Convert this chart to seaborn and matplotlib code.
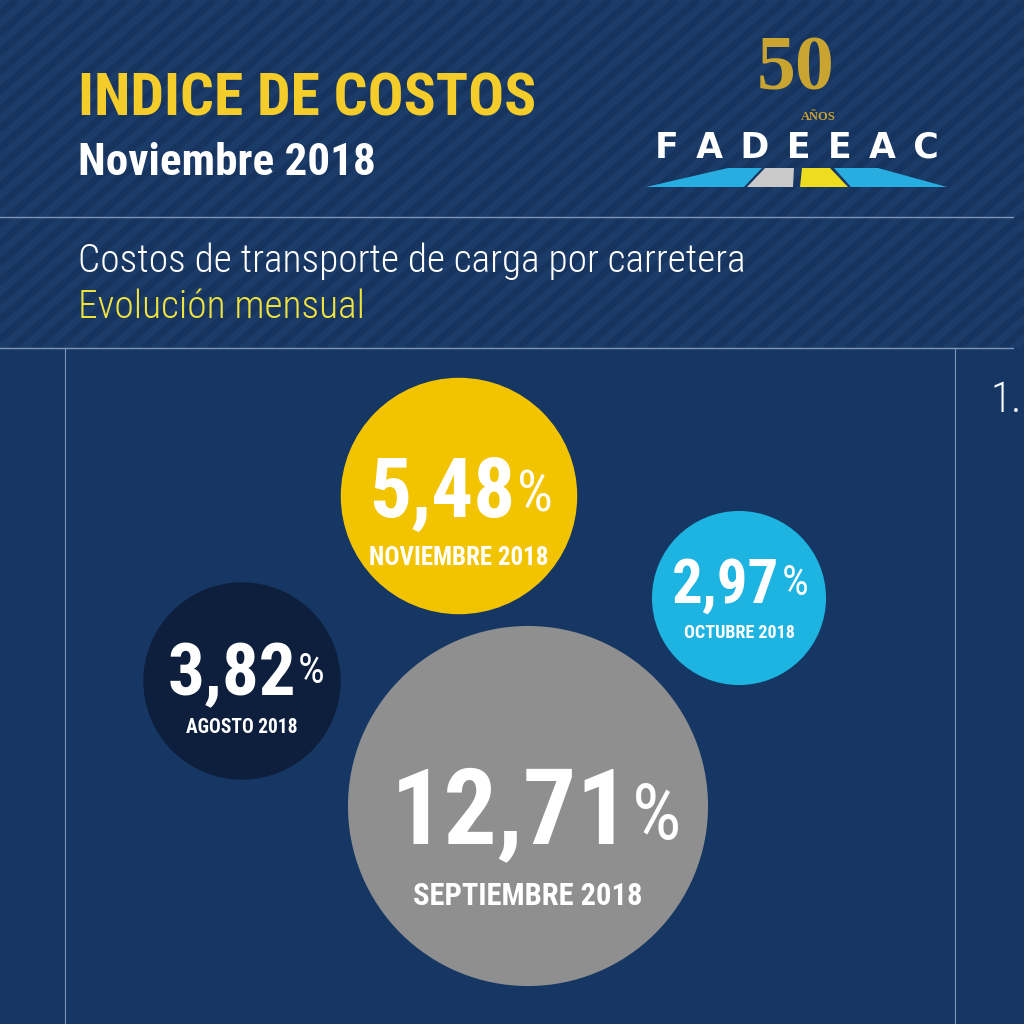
import numpy as np
import pandas as pd
import matplotlib
matplotlib.use("Agg")
import matplotlib.pyplot as plt
import seaborn as sns
from matplotlib import font_manager as fm
from matplotlib.patches import Rectangle, Polygon
from matplotlib.collections import LineCollection

# ---------------- data ----------------
meses = ["AGOSTO 2018", "SEPTIEMBRE 2018", "OCTUBRE 2018", "NOVIEMBRE 2018"]
valores = [3.82, 12.71, 2.97, 5.48]
etiquetas_valor = ["3,82", "12,71", "2,97", "5,48"]

titulo = "INDICE DE COSTOS"
subtitulo = "Noviembre 2018"
texto_1 = "Costos de transporte de carga por carretera"
texto_2 = "Evolución mensual"

# ---------------- layout / style ----------------
bubble_x = [242, 528, 739, 459]
bubble_y = [681, 806, 598, 496]
colores = ["#0e1f3d", "#8f8f8f", "#1db4e2", "#f2c400"]
# per bubble: value baseline, value cap px, value width px, % drop px, % cap px,
# label baseline, label cap px, label width px, group center offset
val_base = [695, 843, 603, 517]
val_cap = [60, 101, 51, 75]
val_w = [117, 218, 98, 133]
pct_drop = [10, 16, 6, 13]
pct_cap = [32, 59, 32, 43]
lab_base = [733, 905, 638, 565]
lab_cap = [15, 22, 13, 18]
lab_w = [107, 235, 110, 179]
grp_off = [4, 8, 1, 2]

BG = "#163763"
HEAD = "#1b3b69"
STRIPE = "#17345f"
LINE = "#7f95b8"

available = {f.name for f in fm.fontManager.ttflist}
COND = None
for c in ["Liberation Sans Narrow", "Roboto Condensed", "Open Sans Condensed",
          "DejaVu Sans Condensed", "Liberation Sans"]:
    if c in available:
        COND = c
        break
if COND is None:
    COND = "DejaVu Sans"
SERIF = "Liberation Serif" if "Liberation Serif" in available else "DejaVu Serif"

sns.set_theme(style="white")
plt.rcParams["font.family"] = [COND, "DejaVu Sans"]

fig = plt.figure(figsize=(10.24, 10.24), dpi=100)
fig.patch.set_facecolor(BG)
ax = fig.add_axes([0, 0, 1, 1])
ax.set_facecolor(BG)

# header band with diagonal stripes
head = Rectangle((0, 0), 1024, 348, facecolor=HEAD, edgecolor="none", zorder=0)
ax.add_patch(head)
segs = [[(x0, 348), (x0 + 400, 0)] for x0 in range(-450, 1100, 22)]
lc = LineCollection(segs, colors=STRIPE, linewidths=5.0, zorder=0.5)
ax.add_collection(lc)
lc.set_clip_path(head)

# rules
ax.plot([0, 1013], [217, 217], color=LINE, lw=1.0, zorder=1)
ax.plot([0, 1013], [348, 348], color=LINE, lw=1.0, zorder=1)
ax.plot([65, 65], [348, 1024], color=LINE, lw=0.8, zorder=1)
ax.plot([955, 955], [348, 1024], color=LINE, lw=0.8, zorder=1)

# bubbles (area proportional to value)
df = pd.DataFrame({"mes": meses, "valor": valores, "x": bubble_x, "y": bubble_y})
k = 50.5
def area_pt2(v):
    return (2 * k * np.sqrt(v) * 72 / 100) ** 2
vmin, vmax = min(valores), max(valores)
sns.scatterplot(data=df, x="x", y="y", hue="mes", palette=dict(zip(meses, colores)),
                size="valor", sizes=(area_pt2(vmin), area_pt2(vmax)),
                size_norm=(vmin, vmax), legend=False, linewidth=0, ax=ax, zorder=3)

ax.set_xlim(0, 1024)
ax.set_ylim(1024, 0)
ax.axis("off")

R = fig.canvas.get_renderer()
CAP = 0.72

def fs_for_cap(cap_px):
    return cap_px / CAP * 0.72

def fit(t, width_px, cap_px, slack=1.08):
    fs = fs_for_cap(cap_px)
    t.set_fontsize(fs)
    w = t.get_window_extent(renderer=R).width
    if w > width_px * slack:
        t.set_fontsize(fs * width_px * slack / w)

# header texts
t = ax.text(78, 115, titulo, color="#f4cd2a", fontweight="bold", ha="left", va="baseline", zorder=5)
fit(t, 450, 52, 1.02)
t = ax.text(78, 175, subtitulo, color="white", fontweight="bold", ha="left", va="baseline", zorder=5)
fit(t, 292, 38, 1.02)
t = ax.text(78, 272, texto_1, color="white", fontweight="light", ha="left", va="baseline", zorder=5)
fit(t, 667, 34, 1.0)
t = ax.text(78, 318, texto_2, color="#f0e43c", fontweight="light", ha="left", va="baseline", zorder=5)
fit(t, 287, 34, 1.0)
ax.text(990, 412, "1.", color="white", fontweight="light", ha="left", va="baseline",
        fontsize=fs_for_cap(31), zorder=5)

# logo
gold = "#c9a431"
ax.text(796, 89, "50", family=[SERIF, "DejaVu Serif"], fontweight="bold", color=gold,
        ha="center", va="baseline", fontsize=56, zorder=5)
ax.text(818, 120, "AÑOS", family=[SERIF, "DejaVu Serif"], fontweight="bold", color=gold,
        ha="center", va="baseline", fontsize=9, zorder=5)
t = ax.text(797, 158, "F\u2002A\u2002D\u2002E\u2002E\u2002A\u2002C", family=["DejaVu Sans"],
            fontweight="bold", color="white", ha="center", va="baseline", zorder=5)
fit(t, 287, 25, 1.0)
for pts, col in [([(646, 187), (744, 187), (762, 168), (728, 168)], "#27ade0"),
                 ([(747, 187), (793, 187), (794, 168), (765, 168)], "#c9c9c9"),
                 ([(800, 187), (848, 187), (830, 168), (802, 168)], "#eedd1e"),
                 ([(851, 187), (947, 187), (878, 168), (834, 168)], "#27ade0")]:
    ax.add_patch(Polygon(pts, closed=True, facecolor=col, edgecolor="none", zorder=5))

# bubble texts
for i in range(len(meses)):
    cx = bubble_x[i]
    vt = ax.text(cx, val_base[i], etiquetas_valor[i], color="white", fontweight="bold",
                 ha="center", va="baseline", zorder=6)
    fit(vt, val_w[i], val_cap[i], 1.1)
    pt = ax.annotate("%", xy=(1, 1), xycoords=vt, xytext=(1.5, -pct_drop[i] * 0.72),
                     textcoords="offset points", ha="left", va="top", color="white",
                     fontsize=fs_for_cap(pct_cap[i]) * 0.95, zorder=6)
    vb = vt.get_window_extent(renderer=R)
    pb = pt.get_window_extent(renderer=R)
    shift = (cx + grp_off[i]) - (vb.x0 + pb.x1) / 2
    vt.set_x(cx + shift)
    lt = ax.text(cx, lab_base[i], meses[i], color="white", fontweight="bold",
                 ha="center", va="baseline", zorder=6)
    fit(lt, lab_w[i], lab_cap[i], 1.05)

fig.savefig("out.png", dpi=100, facecolor=BG)
